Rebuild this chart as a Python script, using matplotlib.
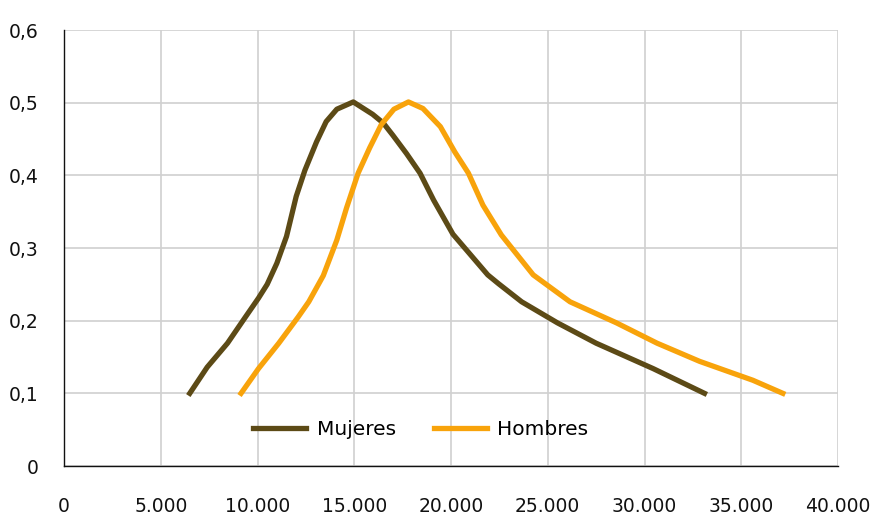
import matplotlib
matplotlib.use("Agg")
import matplotlib.pyplot as plt

# Data
mujeres_x = [6500, 7400, 8450, 9350, 10050, 10500, 11000, 11500, 12000, 12450,
             13050, 13550, 14100, 14950, 15950, 16500, 17000, 17700, 18400,
             19100, 20100, 21000, 21900, 22450, 23650, 25500, 27500, 30450, 33100]
mujeres_y = [0.100, 0.136, 0.169, 0.204, 0.231, 0.250, 0.279, 0.316, 0.371, 0.407,
             0.446, 0.474, 0.491, 0.501, 0.484, 0.472, 0.455, 0.430, 0.403,
             0.366, 0.319, 0.291, 0.263, 0.251, 0.226, 0.197, 0.169, 0.134, 0.100]

hombres_x = [9150, 10050, 11100, 12100, 12650, 13400, 14100, 14600, 15200, 15800,
             16400, 17050, 17800, 18550, 19450, 20200, 20900, 21650, 22600, 24250,
             26150, 28550, 30650, 32850, 35600, 37150]
hombres_y = [0.100, 0.134, 0.169, 0.205, 0.226, 0.262, 0.311, 0.355, 0.403, 0.438,
             0.470, 0.491, 0.501, 0.492, 0.467, 0.432, 0.403, 0.359, 0.318, 0.263,
             0.226, 0.197, 0.169, 0.144, 0.118, 0.100]

x_ticks = [0, 5000, 10000, 15000, 20000, 25000, 30000, 35000, 40000]
x_tick_labels = ["0", "5.000", "10.000", "15.000", "20.000", "25.000", "30.000", "35.000", "40.000"]
y_ticks = [0, 0.1, 0.2, 0.3, 0.4, 0.5, 0.6]
y_tick_labels = ["0", "0,1", "0,2", "0,3", "0,4", "0,5", "0,6"]

brown = "#5C4A16"
orange = "#F8A30B"

plt.rcParams['font.family'] = ['DejaVu Sans']
fig = plt.figure(figsize=(8.77, 5.16), dpi=100)
ax = fig.add_axes([64/877, (516-466)/516, (838-64)/877, (466-30)/516])

ax.plot(mujeres_x, mujeres_y, color=brown, lw=3.8, label="Mujeres", solid_joinstyle='round', zorder=3)
ax.plot(hombres_x, hombres_y, color=orange, lw=3.8, label="Hombres", solid_joinstyle='round', zorder=3)

ax.set_xlim(0, 40000)
ax.set_ylim(0, 0.6)
ax.set_xticks(x_ticks)
ax.set_xticklabels(x_tick_labels)
ax.set_yticks(y_ticks)
ax.set_yticklabels(y_tick_labels)
ax.tick_params(axis='both', length=0, labelsize=13.5, colors='#111111')
ax.tick_params(axis='x', pad=22)
ax.tick_params(axis='y', pad=18)

ax.grid(True, color='#D0D0D0', lw=1.2, zorder=0)
ax.set_axisbelow(True)
for s in ['top', 'right']:
    ax.spines[s].set_visible(False)
ax.spines['left'].set_color('#111111')
ax.spines['bottom'].set_color('#111111')
ax.spines['left'].set_linewidth(1.0)
ax.spines['bottom'].set_linewidth(1.0)

leg = ax.legend(loc='center', bbox_to_anchor=(0.461, 0.083), ncol=2, frameon=False,
                fontsize=14.5, handlelength=2.65, handletextpad=0.5, columnspacing=1.9)

fig.savefig("out.png", dpi=100)
